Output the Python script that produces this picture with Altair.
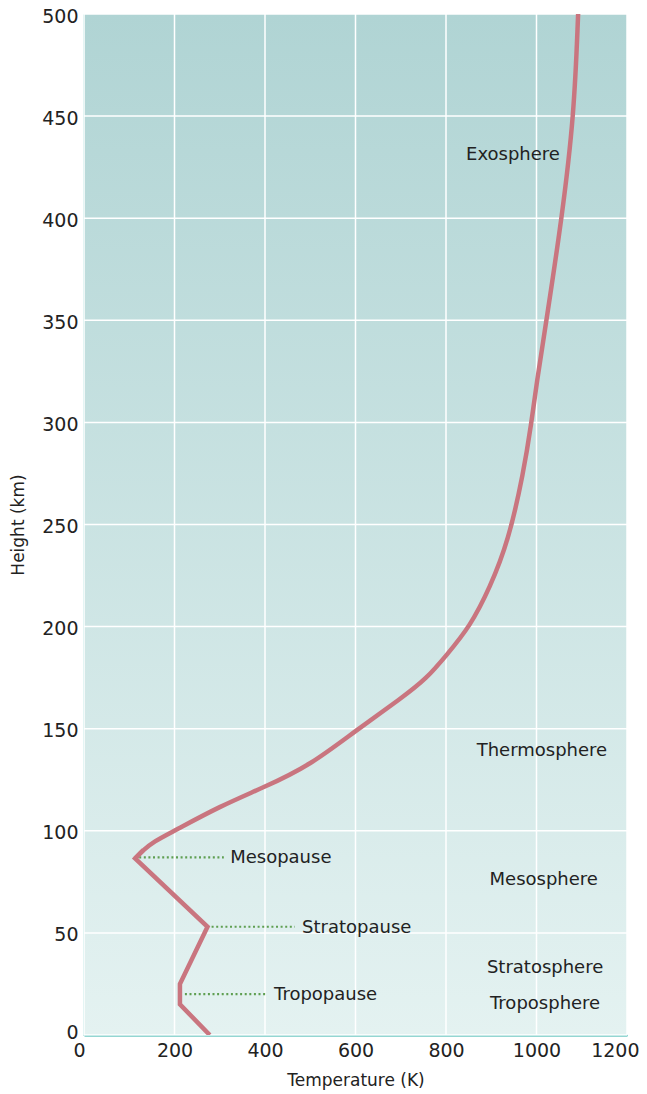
import altair as alt
import pandas as pd

# Lower atmosphere (piecewise straight) temperature (K) / height (km)
low_temp = [278, 212, 212, 273, 113, 131]
low_height = [0, 15, 25, 53, 86.5, 90.5]

# Upper atmosphere (smooth curve) temperature (K) / height (km)
up_temp = [113, 131, 153, 200, 300, 400, 499, 600, 702, 757,
           801, 853, 897, 938, 971, 989, 1000, 1022, 1056, 1083, 1092]
up_height = [86.5, 90.5, 94.6, 100, 112, 121.5, 132, 149, 165, 174.5,
             186, 200, 219, 242, 275, 300, 319, 350, 400, 450, 500]

# "pause" annotations
pause_names = ["Mesopause", "Stratopause", "Tropopause"]
pause_height = [87, 53, 20]
pause_start = [122, 282, 223]
pause_end = [309, 466, 404]
pause_label_x = [323, 482, 420]

# layer labels
layer_names = ["Exosphere", "Thermosphere", "Mesosphere", "Stratosphere", "Troposphere"]
layer_x = [948, 1012, 1016, 1019, 1019]
layer_y = [431, 139, 76, 33, 15]

x_ticks = [0, 200, 400, 600, 800, 1000, 1200]
y_ticks = [0, 50, 100, 150, 200, 250, 300, 350, 400, 450, 500]

W, H = 543, 1021
FONT = "DejaVu Sans"
TEXT = "#222222"
TEAL = "#2aaea6"
LINE = "#c9757f"

low = pd.DataFrame({"T": low_temp, "h": low_height})
up = pd.DataFrame({"T": up_temp, "h": up_height})
pauses = pd.DataFrame({"name": pause_names, "h": pause_height, "x0": pause_start,
                       "x1": pause_end, "lx": pause_label_x})
layers = pd.DataFrame({"name": layer_names, "x": layer_x, "y": layer_y})

xs = alt.Scale(domain=[0, 1200], nice=False, zero=False)
ys = alt.Scale(domain=[0, 500], nice=False, zero=False)

bg = alt.Chart(pd.DataFrame({"a": [0]})).mark_rect(
    color=alt.LinearGradient(
        gradient="linear",
        stops=[alt.GradientStop(color="#b0d4d4", offset=0),
               alt.GradientStop(color="#e4f2f1", offset=1)],
        x1=0, x2=0, y1=0, y2=1,
    )
).encode(x=alt.value(0), x2=alt.value(W), y=alt.value(0), y2=alt.value(H))

vgrid = alt.Chart(pd.DataFrame({"v": x_ticks})).mark_rule(
    color="white", strokeWidth=1.5
).encode(x=alt.X("v:Q", scale=xs), y=alt.value(0), y2=alt.value(H))

hgrid = alt.Chart(pd.DataFrame({"v": y_ticks})).mark_rule(
    color="white", strokeWidth=1.5
).encode(y=alt.Y("v:Q", scale=ys), x=alt.value(0), x2=alt.value(W))

leaders = alt.Chart(pauses).mark_rule(
    color="#5f9f52", strokeWidth=2.2, strokeDash=[2, 2.6]
).encode(
    x=alt.X("x0:Q", scale=xs), x2="x1:Q", y=alt.Y("h:Q", scale=ys)
)

pause_text = alt.Chart(pauses).mark_text(
    align="left", baseline="middle", font=FONT, fontSize=18, color=TEXT, dy=1
).encode(x=alt.X("lx:Q", scale=xs), y=alt.Y("h:Q", scale=ys), text="name:N")

layer_text = alt.Chart(layers).mark_text(
    align="center", baseline="middle", font=FONT, fontSize=18, color=TEXT
).encode(x=alt.X("x:Q", scale=xs), y=alt.Y("y:Q", scale=ys), text="name:N")

x_axis = alt.Axis(title="Temperature (K)", values=x_ticks, grid=False, format="d",
                  ticks=False, domainColor=TEAL, domainWidth=2, labelFlush=False,
                  labelAlign={"expr": "datum.value == 1200 ? 'right' : 'center'"},
                  labelOffset={"expr": "datum.value == 0 ? -5 : (datum.value == 1200 ? 12 : 0)"},
                  labelFont=FONT, labelFontSize=19, labelColor=TEXT,
                  labelPadding=6, titleFont=FONT, titleFontSize=17,
                  titleFontWeight="normal", titleColor=TEXT, titlePadding=12)
y_axis = alt.Axis(title="Height (km)", values=y_ticks, grid=False, format="d",
                  ticks=False, domainColor=TEAL, domainWidth=2, labelFlush=False,
                  labelOffset={"expr": "datum.value == 0 ? -3 : 2"},
                  labelFont=FONT, labelFontSize=19, labelColor=TEXT,
                  labelPadding=6, titleFont=FONT, titleFontSize=17,
                  titleFontWeight="normal", titleColor=TEXT, titlePadding=14)

line_low = alt.Chart(low).mark_line(
    color=LINE, strokeWidth=4.5, strokeJoin="miter", clip=True
).encode(
    x=alt.X("T:Q", scale=xs, axis=x_axis),
    y=alt.Y("h:Q", scale=ys, axis=y_axis),
    order="h:Q",
)

line_up = alt.Chart(up).mark_line(
    color=LINE, strokeWidth=4.5, interpolate="basis", clip=True
).encode(
    x=alt.X("T:Q", scale=xs),
    y=alt.Y("h:Q", scale=ys),
    order="h:Q",
)

chart = alt.layer(bg, vgrid, hgrid, leaders, line_low, line_up, pause_text, layer_text).properties(
    width=W, height=H,
    padding={"left": 76, "top": 6, "right": 12, "bottom": 58},
    autosize="none",
).configure_view(stroke=None)

chart.save("out.html", embed_options={"renderer": "svg", "actions": False})
